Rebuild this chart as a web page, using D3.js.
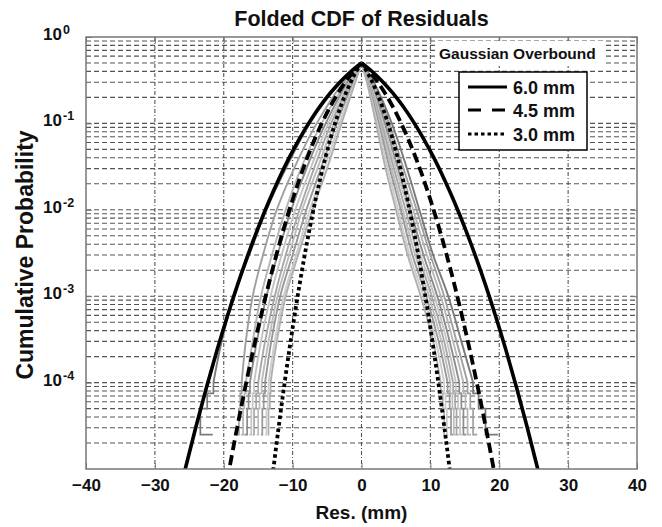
<!DOCTYPE html>
<html>
<head>
<meta charset="utf-8">
<script src="https://cdn.jsdelivr.net/npm/d3@7"></script>
<style>
  html, body { margin: 0; padding: 0; background: #fff; }
  svg { display: block; }
  text { font-family: "Liberation Sans", Arial, Helvetica, sans-serif; font-weight: bold; fill: #111; }
</style>
</head>
<body>
<div id="chart"></div>
<script>
// ---------------- data ----------------
const xTicks = [-40, -30, -20, -10, 0, 10, 20, 30, 40];
const yLabelExps = [0, -1, -2, -3, -4];
const legendLabels = ["6.0 mm", "4.5 mm", "3.0 mm"];

// Gaussian overbound curves (right half; mirrored for the left half)
const obProb = [0.5, 0.4013, 0.3085, 0.2266, 0.1587, 0.1056, 0.0668, 0.0401, 0.02275, 0.01222,
                0.00621, 0.00298, 0.00135, 5.77e-4, 2.33e-4, 8.84e-5, 3.17e-5, 1.07e-5, 3.40e-6];
const ob60X = [0, 1.5, 3, 4.5, 6, 7.5, 9, 10.5, 12, 13.5, 15, 16.5, 18, 19.5, 21, 22.5, 24, 25.5, 27];
const ob45X = [0, 1.125, 2.25, 3.375, 4.5, 5.625, 6.75, 7.875, 9, 10.125, 11.25, 12.375, 13.5, 14.625, 15.75, 16.875, 18, 19.125, 20.25];
const ob30X = [0, 0.75, 1.5, 2.25, 3, 3.75, 4.5, 5.25, 6, 6.75, 7.5, 8.25, 9, 9.75, 10.5, 11.25, 12, 12.75, 13.5];

// Empirical folded CDFs: |residual| (mm) reached at each probability level
const grayLevels = [0.5, 0.3, 0.1, 0.03, 0.01, 3e-3, 1e-3, 3e-4, 1e-4, 7.5e-5, 5e-5, 2.5e-5];
const grayLeft = [
  [0, 3.0, 7.5, 11.0, 13.8, 16.3, 18.5, 20.3, 21.5, 22.4, 23.4, 21.6],
  [0, 2.6, 6.5, 9.8, 12.3, 14.3, 15.8, 16.8, 17.4, 17.6, 17.8, 18.0],
  [0, 2.2, 5.8, 8.8, 11.0, 13.0, 14.6, 15.8, 16.8, 17.0, 17.2, 17.5],
  [0, 2.0, 5.2, 8.0, 10.2, 12.2, 13.8, 15.2, 16.2, 16.4, 16.6, 17.0],
  [0, 1.8, 4.8, 7.4, 9.6, 11.6, 13.2, 14.6, 15.6, 15.8, 16.0, 16.3],
  [0, 1.6, 4.4, 6.9, 9.0, 11.0, 12.6, 14.0, 15.0, 15.3, 15.6, 15.8],
  [0, 1.4, 4.0, 6.4, 8.6, 10.5, 12.2, 13.5, 14.5, 14.8, 15.0, 15.2],
  [0, 1.2, 3.6, 5.9, 8.0, 10.0, 11.8, 13.1, 14.0, 14.2, 14.4, 14.6],
  [0, 1.0, 3.2, 5.4, 7.5, 9.5, 11.3, 12.6, 13.5, 13.6, 13.8, 14.0],
  [0, 0.9, 2.9, 5.0, 7.1, 9.2, 11.0, 12.3, 13.2, 13.3, 13.5, 13.6]
];
const grayRight = [
  [0, 1.8, 4.4, 6.6, 8.4, 10.4, 12.6, 14.5, 16.2, 17.0, 18.0, 19.8],
  [0, 1.6, 4.0, 6.1, 8.0, 10.0, 12.0, 13.8, 15.4, 15.8, 16.2, 16.8],
  [0, 1.4, 3.7, 5.7, 7.5, 9.5, 11.5, 13.3, 14.8, 15.1, 15.4, 15.9],
  [0, 1.3, 3.4, 5.3, 7.1, 9.0, 11.0, 12.8, 14.2, 14.5, 14.8, 15.2],
  [0, 1.2, 3.1, 5.0, 6.8, 8.6, 10.6, 12.4, 13.7, 14.0, 14.3, 14.6],
  [0, 1.1, 2.9, 4.7, 6.4, 8.2, 10.2, 12.0, 13.3, 13.6, 13.8, 14.1],
  [0, 1.0, 2.7, 4.4, 6.0, 7.8, 9.8, 11.6, 12.9, 13.2, 13.4, 13.7],
  [0, 0.9, 2.5, 4.1, 5.7, 7.4, 9.4, 11.2, 12.5, 12.8, 13.0, 13.3],
  [0, 0.8, 2.3, 3.8, 5.3, 7.0, 9.0, 10.8, 12.0, 12.2, 12.4, 12.6],
  [0, 0.8, 2.1, 3.5, 5.0, 6.7, 8.6, 10.4, 11.5, 11.8, 12.0, 12.2]
];

// ---------------- styles ----------------
const grayColors = ["#7a7a7a", "#a0a0a0", "#b6b6b6", "#8c8c8c", "#c4c4c4",
                    "#a8a8a8", "#bcbcbc", "#989898", "#cccccc", "#b0b0b0"];
const obStyles = [
  { width: 3.6, dash: null },
  { width: 3.8, dash: "10,5" },
  { width: 3.8, dash: "3.5,3" }
];
const legendDash = [null, "13,11", "3.5,3"];

// ---------------- chart ----------------
const W = 662, H = 527;
const L = 86, R = 637, T = 37, B = 469;

const svg = d3.select("#chart").append("svg").attr("width", W).attr("height", H);
const x = d3.scaleLinear().domain([-40, 40]).range([L, R]);
const y = d3.scaleLog().domain([1e-5, 1]).range([B, T]);

svg.append("defs").append("clipPath").attr("id", "plotclip")
  .append("rect").attr("x", L).attr("y", T).attr("width", R - L).attr("height", B - T);

svg.append("rect").attr("x", L).attr("y", T).attr("width", R - L).attr("height", B - T).attr("fill", "#fff");

// grid
const grid = svg.append("g");
const hVals = y.ticks().filter(v => v > 1.0001e-5 && v < 0.9999);
grid.selectAll("line.h").data(hVals).join("line")
  .attr("x1", L).attr("x2", R).attr("y1", d => y(d)).attr("y2", d => y(d))
  .attr("stroke", "#555").attr("stroke-width", 1.1).attr("stroke-dasharray", "5,3");
grid.selectAll("line.v").data(xTicks.filter(v => v > -40 && v < 40)).join("line")
  .attr("y1", T).attr("y2", B).attr("x1", d => x(d)).attr("x2", d => x(d))
  .attr("stroke", "#555").attr("stroke-width", 1.1).attr("stroke-dasharray", "4,2,1,2");

const plot = svg.append("g").attr("clip-path", "url(#plotclip)");

// gray empirical curves
const bodyLine = d3.line().x(d => x(d[0])).y(d => y(d[1])).curve(d3.curveCatmullRom);
const tailLine = d3.line().x(d => x(d[0])).y(d => y(d[1])).curve(d3.curveStepBefore);
const sides = [{ data: grayLeft, sign: -1 }, { data: grayRight, sign: 1 }];
sides.forEach(side => {
  side.data.forEach((arr, i) => {
    const pts = arr.map((v, j) => [side.sign * v, grayLevels[j]]);
    const body = pts.slice(0, 9);
    const tail = pts.slice(8);
    plot.append("path").attr("d", bodyLine(body)).attr("fill", "none")
      .attr("stroke", grayColors[i]).attr("stroke-width", 1.9);
    plot.append("path").attr("d", tailLine(tail)).attr("fill", "none")
      .attr("stroke", grayColors[i]).attr("stroke-width", 1.7);
  });
});

// overbounds
const obLine = d3.line().x(d => x(d[0])).y(d => y(d[1])).curve(d3.curveMonotoneX);
[ob60X, ob45X, ob30X].forEach((xs, k) => {
  const right = xs.map((v, j) => [v, obProb[j]]);
  const left = xs.map((v, j) => [-v, obProb[j]]).reverse();
  [left, right].forEach(part => {
    const p = plot.append("path").attr("d", obLine(part)).attr("fill", "none")
      .attr("stroke", "#000").attr("stroke-width", obStyles[k].width);
    if (obStyles[k].dash) p.attr("stroke-dasharray", obStyles[k].dash);
  });
});

// frame
svg.append("rect").attr("x", L).attr("y", T).attr("width", R - L).attr("height", B - T)
  .attr("fill", "none").attr("stroke", "#777").attr("stroke-width", 1.5);

// x axis
const xAxis = svg.append("g").attr("transform", `translate(0,${B})`)
  .call(d3.axisBottom(x).tickValues(xTicks).tickSize(-6).tickPadding(10).tickFormat(d3.format("d")));
xAxis.select(".domain").remove();
xAxis.selectAll(".tick line").attr("stroke", "#777");
xAxis.selectAll(".tick text").style("font-size", "17px").attr("fill", "#111")
  .style("font-family", "'Liberation Sans', Arial, sans-serif").style("font-weight", "bold");
const xTop = svg.append("g").attr("transform", `translate(0,${T})`)
  .call(d3.axisTop(x).tickValues(xTicks).tickSize(-6).tickFormat(""));
xTop.select(".domain").remove();
xTop.selectAll(".tick line").attr("stroke", "#777");

// y axis ticks
const yAx = svg.append("g").attr("transform", `translate(${L},0)`)
  .call(d3.axisLeft(y).tickValues(yLabelExps.map(e => Math.pow(10, e))).tickSize(-6).tickFormat(""));
yAx.select(".domain").remove();
yAx.selectAll(".tick line").attr("stroke", "#777");
const yR = svg.append("g").attr("transform", `translate(${R},0)`)
  .call(d3.axisRight(y).tickValues(yLabelExps.map(e => Math.pow(10, e))).tickSize(-6).tickFormat(""));
yR.select(".domain").remove();
yR.selectAll(".tick line").attr("stroke", "#777");

// y tick labels with superscripts
const yl = svg.append("g");
yLabelExps.forEach(e => {
  const yy = y(Math.pow(10, e));
  yl.append("text").attr("x", 62).attr("y", yy + 3).attr("text-anchor", "end")
    .style("font-size", "17px").text("10");
  yl.append("text").attr("x", 63).attr("y", yy - 3).attr("text-anchor", "start")
    .style("font-size", "12.5px").text(String(e));
});

// titles
svg.append("text").attr("x", (L + R) / 2).attr("y", 26).attr("text-anchor", "middle")
  .style("font-size", "21.5px").text("Folded CDF of Residuals");
svg.append("text").attr("x", (L + R) / 2).attr("y", 519).attr("text-anchor", "middle")
  .style("font-size", "19px").text("Res. (mm)");
svg.append("text").attr("transform", `translate(33,255) rotate(-90)`)
  .attr("text-anchor", "middle").style("font-size", "23px").text("Cumulative Probability");

// legend
const lg = svg.append("g");
lg.append("rect").attr("x", 437).attr("y", 41).attr("width", 167).attr("height", 25).attr("fill", "#fff");
lg.append("text").attr("x", 439).attr("y", 59).style("font-size", "15.5px").text("Gaussian Overbound");
lg.append("rect").attr("x", 459).attr("y", 72).attr("width", 128).attr("height", 78)
  .attr("fill", "#fff").attr("stroke", "#000").attr("stroke-width", 1.5);
const legY = [87, 110, 134];
legendLabels.forEach((lab, k) => {
  const ln = lg.append("line").attr("x1", 468).attr("x2", 507).attr("y1", legY[k]).attr("y2", legY[k])
    .attr("stroke", "#000").attr("stroke-width", 3.2);
  if (legendDash[k]) ln.attr("stroke-dasharray", legendDash[k]);
  lg.append("text").attr("x", 513).attr("y", legY[k] + 6.5).style("font-size", "18px").text(lab);
});
</script>
</body>
</html>
